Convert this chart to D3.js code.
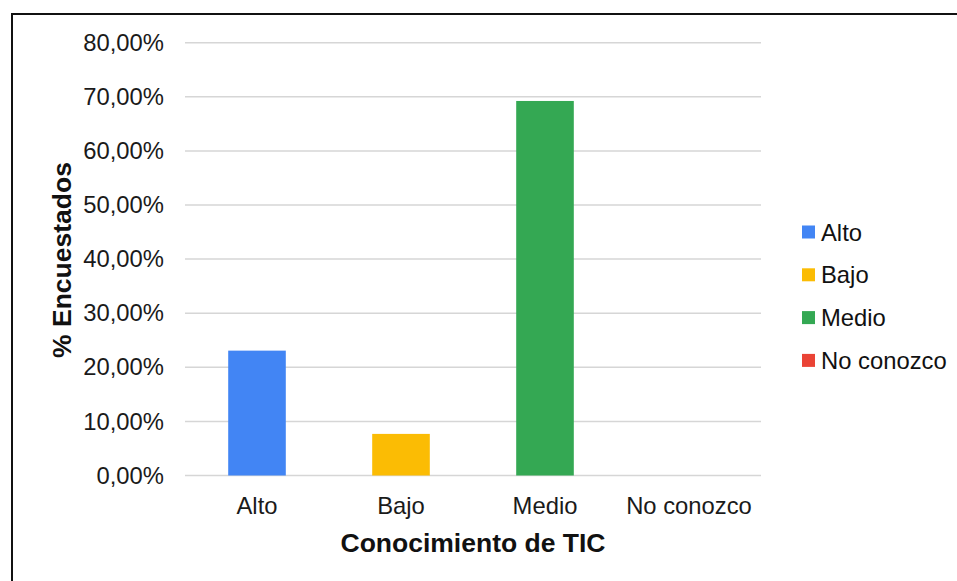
<!DOCTYPE html>
<html>
<head>
<meta charset="utf-8">
<script src="https://cdn.jsdelivr.net/npm/d3@7"></script>
<style>
  html, body { margin: 0; padding: 0; background: #fff; }
  svg { display: block; font-family: "Liberation Sans", Arial, sans-serif; }
</style>
</head>
<body>
<svg id="chart" width="957" height="581"></svg>
<script>
const categories = ["Alto", "Bajo", "Medio", "No conozco"];
const values = [23.08, 7.69, 69.23, 0];
const colors = ["#4285F4", "#FBBC04", "#34A853", "#EA4335"];
const yTicks = [0, 10, 20, 30, 40, 50, 60, 70, 80];
const xTitle = "Conocimiento de TIC";
const yTitle = "% Encuestados";

const svg = d3.select("#chart");

// outer frame (extends beyond the window on right and bottom)
svg.append("rect")
  .attr("x", 12).attr("y", 14)
  .attr("width", 1000).attr("height", 1000)
  .attr("fill", "none").attr("stroke", "#111").attr("stroke-width", 2);

const x = d3.scaleBand().domain(categories).range([185, 761])
  .paddingInner(0.6).paddingOuter(0.3);
const y = d3.scaleLinear().domain([0, 80]).range([475.5, 42.7]);

const fmt = v => v.toFixed(2).replace(".", ",") + "%";

// gridlines
svg.append("g").selectAll("line").data(yTicks).join("line")
  .attr("x1", 185).attr("x2", 761)
  .attr("y1", d => y(d)).attr("y2", d => y(d))
  .attr("stroke", "#d6d6d6").attr("stroke-width", 1.5);

// y axis labels
const yAxis = d3.axisLeft(y).tickValues(yTicks).tickFormat(fmt).tickSize(0).tickPadding(0);
const gy = svg.append("g").attr("transform", "translate(164,0)").call(yAxis);
gy.select(".domain").remove();
gy.selectAll("text").attr("font-size", 23.8).attr("fill", "#1a1a1a")
  .attr("font-family", "'Liberation Sans', Arial, sans-serif");

// bars
svg.append("g").selectAll("rect").data(categories).join("rect")
  .attr("x", d => x(d))
  .attr("width", x.bandwidth())
  .attr("y", (d, i) => y(values[i]))
  .attr("height", (d, i) => y(0) - y(values[i]))
  .attr("fill", (d, i) => colors[i]);

// x axis labels
const xAxis = d3.axisBottom(x).tickSize(0).tickPadding(0);
const gx = svg.append("g").attr("transform", "translate(0,497)").call(xAxis);
gx.select(".domain").remove();
gx.selectAll("text").attr("font-size", 23.8).attr("fill", "#1a1a1a")
  .attr("dy", "0.71em")
  .attr("font-family", "'Liberation Sans', Arial, sans-serif");

// axis titles
svg.append("text")
  .attr("x", 473).attr("y", 552)
  .attr("text-anchor", "middle")
  .attr("font-size", 26.5).attr("font-weight", "bold").attr("fill", "#111")
  .text(xTitle);

svg.append("text")
  .attr("transform", "translate(71,260) rotate(-90)")
  .attr("text-anchor", "middle")
  .attr("font-size", 26.5).attr("font-weight", "bold").attr("fill", "#111")
  .text(yTitle);

// legend
const leg = svg.append("g").selectAll("g").data(categories).join("g")
  .attr("transform", (d, i) => `translate(802,${232 + i * 42.8})`);
leg.append("rect")
  .attr("x", 0).attr("y", -6.5).attr("width", 13).attr("height", 13)
  .attr("fill", (d, i) => colors[i]);
leg.append("text")
  .attr("x", 19).attr("y", 8.5)
  .attr("font-size", 23.8).attr("fill", "#111")
  .text(d => d);
</script>
</body>
</html>
